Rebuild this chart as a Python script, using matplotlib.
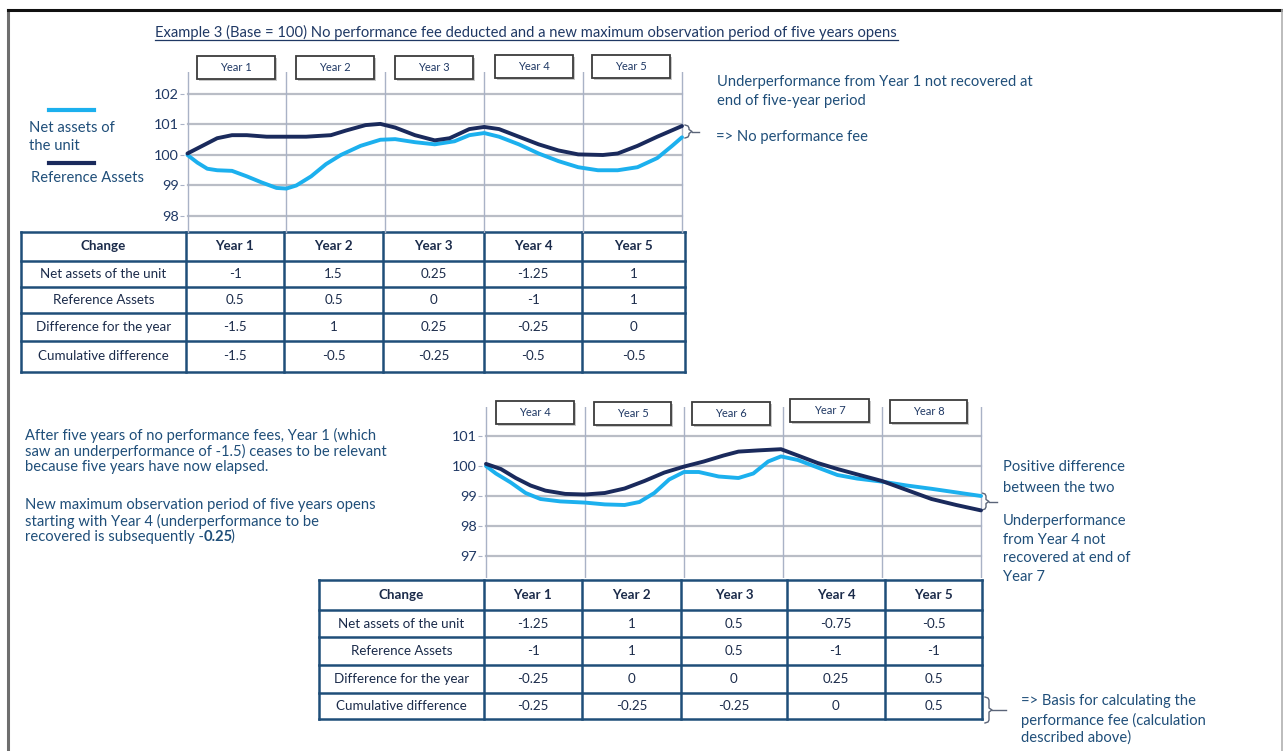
import matplotlib
matplotlib.use('Agg')
import matplotlib.pyplot as plt
from matplotlib.patches import Rectangle

plt.rcParams['font.family'] = ['Lato', 'DejaVu Sans']

W, H = 1283, 751

# curves (year, value)
top_years_net = [0.0, 0.1, 0.2, 0.3, 0.45, 0.6, 0.75, 0.9, 1.0, 1.1, 1.25, 1.4, 1.55, 1.75, 1.95, 2.1,
                 2.3, 2.5, 2.7, 2.85, 3.0, 3.15, 3.35, 3.55, 3.75, 3.95, 4.15, 4.35, 4.55, 4.75, 4.9, 5.0]
top_net = [100.0, 99.75, 99.55, 99.5, 99.48, 99.3, 99.1, 98.92, 98.9, 99.0, 99.3, 99.7, 100.0, 100.3, 100.5, 100.52,
           100.42, 100.35, 100.45, 100.65, 100.72, 100.6, 100.35, 100.05, 99.8, 99.6, 99.5, 99.5, 99.6, 99.9, 100.3, 100.58]
top_years_ref = [0.0, 0.15, 0.3, 0.45, 0.6, 0.8, 1.0, 1.2, 1.45, 1.6, 1.8, 1.95, 2.1, 2.3, 2.5, 2.65,
                 2.85, 3.0, 3.15, 3.35, 3.55, 3.75, 3.95, 4.2, 4.35, 4.55, 4.75, 5.0]
top_ref = [100.05, 100.3, 100.55, 100.65, 100.65, 100.6, 100.6, 100.6, 100.65, 100.8, 100.98, 101.02, 100.9, 100.65,
           100.48, 100.55, 100.85, 100.92, 100.85, 100.6, 100.35, 100.15, 100.02, 100.0, 100.05, 100.3, 100.6, 100.95]

bot_years_net = [0.0, 0.1, 0.25, 0.4, 0.55, 0.75, 1.0, 1.2, 1.4, 1.55, 1.7, 1.85, 2.0, 2.15, 2.35, 2.55, 2.7,
                 2.85, 2.98, 3.15, 3.35, 3.55, 3.75, 4.0, 4.25, 4.5, 4.75, 5.0]
bot_net = [100.0, 99.75, 99.45, 99.1, 98.9, 98.82, 98.78, 98.72, 98.7, 98.8, 99.1, 99.55, 99.8, 99.8, 99.65, 99.6,
           99.75, 100.15, 100.32, 100.2, 99.95, 99.7, 99.58, 99.48, 99.35, 99.24, 99.12, 99.0]
bot_years_ref = [0.0, 0.15, 0.3, 0.45, 0.6, 0.8, 1.0, 1.2, 1.4, 1.6, 1.8, 2.0, 2.2, 2.4, 2.55, 2.75, 2.98,
                 3.15, 3.35, 3.55, 3.75, 4.0, 4.25, 4.5, 4.75, 5.0]
bot_ref = [100.07, 99.9, 99.6, 99.35, 99.18, 99.07, 99.05, 99.1, 99.25, 99.5, 99.78, 99.98, 100.15, 100.35, 100.48,
           100.52, 100.56, 100.35, 100.1, 99.9, 99.72, 99.5, 99.2, 98.9, 98.7, 98.52]

top_year_labels = ['Year 1', 'Year 2', 'Year 3', 'Year 4', 'Year 5']
bot_year_labels = ['Year 4', 'Year 5', 'Year 6', 'Year 7', 'Year 8']
top_yticks = [98, 99, 100, 101, 102]
bot_yticks = [97, 98, 99, 100, 101]

table_header = ['Change', 'Year 1', 'Year 2', 'Year 3', 'Year 4', 'Year 5']
row_labels = ['Net assets of the unit', 'Reference Assets', 'Difference for the year', 'Cumulative difference']
top_table = [['-1', '1.5', '0.25', '-1.25', '1'],
             ['0.5', '0.5', '0', '-1', '1'],
             ['-1.5', '1', '0.25', '-0.25', '0'],
             ['-1.5', '-0.5', '-0.25', '-0.5', '-0.5']]
bot_table = [['-1.25', '1', '0.5', '-0.75', '-0.5'],
             ['-1', '1', '0.5', '-1', '-1'],
             ['-0.25', '0', '0', '0.25', '0.5'],
             ['-0.25', '-0.25', '-0.25', '0', '0.5']]

LIGHT = '#1CB0EE'
DARK = '#1A2A5C'
TXT = '#1F4E79'
NAVY = '#1F3864'
BORDER = '#1F4E79'
NOTE = 10.6

fig = plt.figure(figsize=(W / 100, H / 100), dpi=100)
bg = fig.add_axes([0, 0, 1, 1])
bg.set_xlim(0, W)
bg.set_ylim(H, 0)
bg.axis('off')

# outer frame
bg.plot([8, 8], [10, H], color='#6E6E6E', lw=2.2)
bg.plot([8, W - 1], [10, 10], color='#111111', lw=2.2)
bg.plot([W - 1, W - 1], [10, H], color='#B0B0B0', lw=1.2)

# title
bg.text(155, 32, 'Example 3 (Base = 100) No performance fee deducted and a new maximum observation period of five years opens',
        fontsize=10.6, color=NAVY, va='center', ha='left')
bg.plot([155, 898], [39.5, 39.5], color=NAVY, lw=0.9)


def chart(x0, x1, y_top, y_bot, y_ref_px, px_per_unit, yticks, years_a, net, years_b, ref):
    ymax = 100 + (y_ref_px - y_top) / px_per_unit
    ymin = 100 - (y_bot - y_ref_px) / px_per_unit
    pad = 4
    ax = fig.add_axes([(x0 - pad) / W, 1 - y_bot / H, (x1 - x0 + 2 * pad) / W, (y_bot - y_top) / H])
    span = (x1 - x0) / 5.0
    ax.set_xlim(-pad / span, 5 + pad / span)
    ax.set_ylim(ymin, ymax)
    ax.patch.set_alpha(0)
    for s in ax.spines.values():
        s.set_visible(False)
    for yv in yticks:
        ax.plot([0, 5], [yv, yv], color='#B9BDC6', lw=1.6, zorder=1)
    for xv in range(6):
        ax.plot([xv, xv], [ymin, ymax], color='#A9B2C6', lw=1.0, zorder=1)
    ax.set_xticks([])
    ax.set_yticks(yticks)
    ax.set_yticklabels([str(v) for v in yticks])
    ax.tick_params(axis='y', length=3, width=0.8, color='#A9B2C6', pad=0.5, labelsize=10.4, labelcolor=NAVY)
    ax.plot(years_a, net, color=LIGHT, lw=2.8, solid_joinstyle='round', solid_capstyle='round', zorder=3)
    ax.plot(years_b, ref, color=DARK, lw=2.8, solid_joinstyle='round', solid_capstyle='round', zorder=4)
    return ax


ax1 = chart(187.5, 682, 72, 233, 155, 30.5, top_yticks, top_years_net, top_net, top_years_ref, top_ref)
ax2 = chart(486, 981, 407, 578, 466, 30, bot_yticks, bot_years_net, bot_net, bot_years_ref, bot_ref)


def year_boxes(xs, ys, labels):
    for (xa, xb), yb, lab in zip(xs, ys, labels):
        bg.add_patch(Rectangle((xa + 1.5, yb + 1.5), xb - xa, 23, facecolor='#C8C8C8', edgecolor='none', zorder=5))
        bg.add_patch(Rectangle((xa, yb), xb - xa, 23, facecolor='white', edgecolor='#3C3C3C', lw=1.3, zorder=6))
        bg.text((xa + xb) / 2, yb + 11.5, lab, fontsize=8.0, color=NAVY, ha='center', va='center', zorder=7)


year_boxes([(197, 275), (296, 374), (395, 473), (495, 573), (592, 670)], [56, 56, 56, 55, 55], top_year_labels)
year_boxes([(496, 574), (594, 671), (692, 770), (790, 869), (890, 967)], [401, 402, 402, 399, 400], bot_year_labels)

# legend
bg.plot([49, 94], [110, 110], color=LIGHT, lw=3)
bg.text(29, 128, 'Net assets of', fontsize=NOTE, color=TXT, va='center')
bg.text(29, 146, 'the unit', fontsize=NOTE, color=TXT, va='center')
bg.plot([49, 94], [163, 163], color=DARK, lw=3)
bg.text(31, 178, 'Reference Assets', fontsize=NOTE, color=TXT, va='center')


def table(cols, rows, values):
    for i in range(len(rows) - 1):
        ym = (rows[i] + rows[i + 1]) / 2
        if i == 0:
            cells = table_header
        else:
            cells = [row_labels[i - 1]] + values[i - 1]
        for j, c in enumerate(cells):
            xm = (cols[j] + cols[j + 1]) / 2
            bg.text(xm, ym, c, fontsize=9.6, color='#1B2B4A', ha='center', va='center',
                    fontweight='bold' if i == 0 else 'normal')
    for y in rows:
        bg.plot([cols[0], cols[-1]], [y, y], color=BORDER, lw=1.8, solid_capstyle='projecting')
    for x in cols:
        bg.plot([x, x], [rows[0], rows[-1]], color=BORDER, lw=1.8, solid_capstyle='projecting')


table([21, 186, 284, 383, 484, 582, 685], [232, 261, 287, 313, 341, 372], top_table)
table([319, 484, 582, 681, 787, 885, 982], [580, 610, 637, 665, 693, 719], bot_table)


def bracket(x, y0, y1, tick):
    ym = (y0 + y1) / 2
    bg.plot([x, x + 3, x + 4, x + 4, x + 7, x + 4, x + 4, x + 3, x],
            [y0, y0 + 1, y0 + 3, ym - 2, ym, ym + 2, y1 - 3, y1 - 1, y1],
            color='#5A6478', lw=1.0, solid_joinstyle='round')
    bg.plot([x + 7, x + 7 + tick], [ym, ym], color='#5A6478', lw=1.0)


# notes
bg.text(717, 82, 'Underperformance from Year 1 not recovered at', fontsize=NOTE, color=TXT, va='center')
bg.text(717, 101, 'end of five-year period', fontsize=NOTE, color=TXT, va='center')
bg.text(716, 137, '=> No performance fee', fontsize=NOTE, color=TXT, va='center')
bracket(685, 125, 138, 7)

left_note = ['After five years of no performance fees, Year 1 (which',
             'saw an underperformance of -1.5) ceases to be relevant',
             'because five years have now elapsed.']
for k, line in enumerate(left_note):
    bg.text(25, 435 + 16 * k, line, fontsize=NOTE, color=TXT, va='center')
bg.text(25, 505, 'New maximum observation period of five years opens', fontsize=NOTE, color=TXT, va='center')
bg.text(25, 521, 'starting with Year 4 (underperformance to be', fontsize=NOTE, color=TXT, va='center')
t = bg.text(25, 537, 'recovered is subsequently -', fontsize=NOTE, color=TXT, va='center')
t2 = bg.annotate('0.25', xy=(1, 0.5), xycoords=t, fontsize=NOTE, color=TXT, va='center', ha='left', fontweight='bold')
bg.annotate(')', xy=(1, 0.5), xycoords=t2, xytext=(-1.5, 0), textcoords='offset points',
            fontsize=NOTE, color=TXT, va='center', ha='left')

right_note = ['Positive difference', 'between the two']
for k, line in enumerate(right_note):
    bg.text(1003, 467 + 20.5 * k, line, fontsize=NOTE, color=TXT, va='center')
right_note2 = ['Underperformance', 'from Year 4 not', 'recovered at end of', 'Year 7']
for k, line in enumerate(right_note2):
    bg.text(1003, 521 + 18.7 * k, line, fontsize=NOTE, color=TXT, va='center')
bracket(982, 493, 510, 8)

bg.text(1021, 701, '=> Basis for calculating the', fontsize=NOTE, color=TXT, va='center')
bg.text(1021, 720, 'performance fee (calculation', fontsize=NOTE, color=TXT, va='center')
bg.text(1021, 738, 'described above)', fontsize=NOTE, color=TXT, va='center')
bracket(985, 697, 723, 14)

fig.savefig('out.png', dpi=100)
